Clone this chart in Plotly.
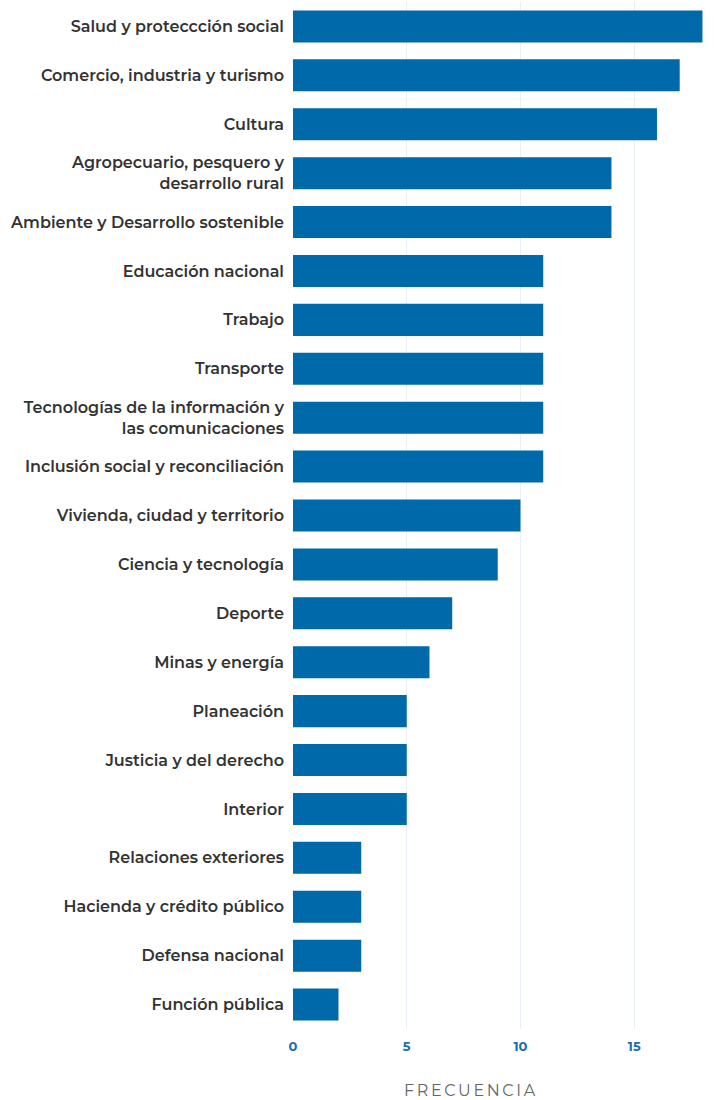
import plotly.graph_objects as go

categories = [
    "Salud y proteccción social",
    "Comercio, industria y turismo",
    "Cultura",
    "Agropecuario, pesquero y<br>desarrollo rural",
    "Ambiente y Desarrollo sostenible",
    "Educación nacional",
    "Trabajo",
    "Transporte",
    "Tecnologías de la información y<br>las comunicaciones",
    "Inclusión social y reconciliación",
    "Vivienda, ciudad y territorio",
    "Ciencia y tecnología",
    "Deporte",
    "Minas y energía",
    "Planeación",
    "Justicia y del derecho",
    "Interior",
    "Relaciones exteriores",
    "Hacienda y crédito público",
    "Defensa nacional",
    "Función pública",
]
values = [18, 17, 16, 14, 14, 11, 11, 11, 11, 11, 10, 9, 7, 6, 5, 5, 5, 3, 3, 3, 2]
x_ticks = [0, 5, 10, 15]
x_title = "FRECUENCIA"

BAR = "#0069aa"
FONT = "Montserrat, 'Open Sans', sans-serif"

fig = go.Figure(
    go.Bar(
        x=values,
        y=categories,
        orientation="h",
        marker=dict(color=BAR, line=dict(width=0)),
        hoverinfo="x+y",
    )
)

fig.update_layout(
    width=714,
    height=1100,
    margin=dict(l=293, r=7, t=2, b=71),
    paper_bgcolor="white",
    plot_bgcolor="white",
    bargap=0.345,
    showlegend=False,
    font=dict(family=FONT),
)

fig.update_xaxes(
    range=[0, 18.2],
    tickvals=x_ticks,
    showgrid=True,
    gridcolor="#e9eff6",
    gridwidth=1,
    zeroline=False,
    showline=False,
    ticks="",
    automargin=False,
    ticklabelstandoff=8,
    tickfont=dict(family=FONT, size=13, color="#1a6fb0", weight="bold"),
)

fig.update_yaxes(
    categoryorder="array",
    categoryarray=categories,
    autorange="reversed",
    showgrid=False,
    zeroline=False,
    showline=False,
    ticks="",
    automargin=False,
    ticklabelstandoff=8,
    tickfont=dict(family=FONT, size=16, color="#333333", weight=600),
)

fig.add_annotation(
    text=x_title,
    xref="paper",
    yref="paper",
    x=(471 - 293) / 414,
    y=0,
    yshift=-61,
    xanchor="center",
    yanchor="middle",
    showarrow=False,
    font=dict(family=FONT, size=16, color="#666666"),
)

post = """
var s = document.createElement('style');
s.textContent = 'html, body { margin: 0; padding: 0; overflow: hidden; } .annotation-text { letter-spacing: 2.6px; }';
document.head.appendChild(s);
"""

fig.write_html("out.html", post_script=post, config={"displayModeBar": False})
